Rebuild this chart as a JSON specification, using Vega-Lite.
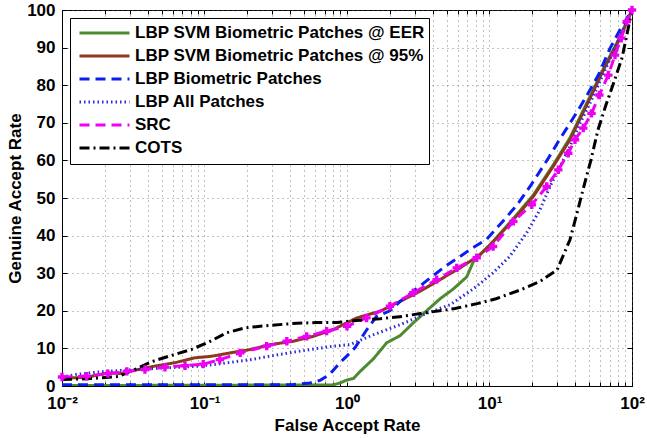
{
  "$schema": "https://vega.github.io/schema/vega-lite/v6.json",
  "autosize": "none",
  "width": 570,
  "height": 376,
  "padding": {"left": 62, "top": 10, "right": 15, "bottom": 52},
  "background": "white",
  "config": {
    "font": "Liberation Sans",
    "view": {"stroke": "black", "strokeWidth": 1},
    "axis": {
      "labelFont": "Liberation Sans",
      "labelFontSize": 17,
      "labelFontWeight": "bold",
      "labelColor": "black",
      "titleFont": "Liberation Sans",
      "titleFontSize": 17,
      "titleFontWeight": "bold",
      "titleColor": "black",
      "domainColor": "black",
      "tickColor": "black",
      "grid": true,
      "gridColor": "#666666",
      "gridDash": [1, 4],
      "gridWidth": 1,
      "gridOpacity": 0.8
    }
  },
  "resolve": {"axis": {"x": "independent", "y": "independent"}},
  "data": {
    "values": [
      {"s": "LBP SVM Biometric Patches @ EER", "x": 0.01, "y": 0.1},
      {"s": "LBP SVM Biometric Patches @ EER", "x": 0.8, "y": 0.3},
      {"s": "LBP SVM Biometric Patches @ EER", "x": 0.893, "y": 0.8},
      {"s": "LBP SVM Biometric Patches @ EER", "x": 1.0, "y": 1.6},
      {"s": "LBP SVM Biometric Patches @ EER", "x": 1.11, "y": 2.0},
      {"s": "LBP SVM Biometric Patches @ EER", "x": 1.23, "y": 3.8},
      {"s": "LBP SVM Biometric Patches @ EER", "x": 1.53, "y": 7.2},
      {"s": "LBP SVM Biometric Patches @ EER", "x": 1.9, "y": 11.5},
      {"s": "LBP SVM Biometric Patches @ EER", "x": 2.36, "y": 13.4},
      {"s": "LBP SVM Biometric Patches @ EER", "x": 2.92, "y": 16.8},
      {"s": "LBP SVM Biometric Patches @ EER", "x": 3.62, "y": 20.0},
      {"s": "LBP SVM Biometric Patches @ EER", "x": 4.5, "y": 23.2},
      {"s": "LBP SVM Biometric Patches @ EER", "x": 5.57, "y": 25.8},
      {"s": "LBP SVM Biometric Patches @ EER", "x": 6.92, "y": 29.0},
      {"s": "LBP SVM Biometric Patches @ EER", "x": 7.69, "y": 33.0},
      {"s": "LBP SVM Biometric Patches @ EER", "x": 8.58, "y": 35.0},
      {"s": "LBP SVM Biometric Patches @ EER", "x": 10.1, "y": 37.6},
      {"s": "LBP SVM Biometric Patches @ EER", "x": 14.7, "y": 44.5},
      {"s": "LBP SVM Biometric Patches @ EER", "x": 20.3, "y": 50.8},
      {"s": "LBP SVM Biometric Patches @ EER", "x": 28.0, "y": 58.8},
      {"s": "LBP SVM Biometric Patches @ EER", "x": 36.7, "y": 66.0},
      {"s": "LBP SVM Biometric Patches @ EER", "x": 50.7, "y": 77.0},
      {"s": "LBP SVM Biometric Patches @ EER", "x": 64.7, "y": 85.3},
      {"s": "LBP SVM Biometric Patches @ EER", "x": 82.4, "y": 92.8},
      {"s": "LBP SVM Biometric Patches @ EER", "x": 100, "y": 100},

      {"s": "LBP SVM Biometric Patches @ 95%", "x": 0.01, "y": 2.0},
      {"s": "LBP SVM Biometric Patches @ 95%", "x": 0.0153, "y": 2.4},
      {"s": "LBP SVM Biometric Patches @ 95%", "x": 0.0211, "y": 3.5},
      {"s": "LBP SVM Biometric Patches @ 95%", "x": 0.0262, "y": 3.3},
      {"s": "LBP SVM Biometric Patches @ 95%", "x": 0.0325, "y": 4.2},
      {"s": "LBP SVM Biometric Patches @ 95%", "x": 0.045, "y": 5.3},
      {"s": "LBP SVM Biometric Patches @ 95%", "x": 0.0621, "y": 6.2},
      {"s": "LBP SVM Biometric Patches @ 95%", "x": 0.0857, "y": 7.5},
      {"s": "LBP SVM Biometric Patches @ 95%", "x": 0.112, "y": 7.9},
      {"s": "LBP SVM Biometric Patches @ 95%", "x": 0.151, "y": 8.8},
      {"s": "LBP SVM Biometric Patches @ 95%", "x": 0.209, "y": 9.7},
      {"s": "LBP SVM Biometric Patches @ 95%", "x": 0.288, "y": 11.0},
      {"s": "LBP SVM Biometric Patches @ 95%", "x": 0.42, "y": 11.9},
      {"s": "LBP SVM Biometric Patches @ 95%", "x": 0.58, "y": 13.2},
      {"s": "LBP SVM Biometric Patches @ 95%", "x": 0.8, "y": 15.0},
      {"s": "LBP SVM Biometric Patches @ 95%", "x": 1.17, "y": 18.1},
      {"s": "LBP SVM Biometric Patches @ 95%", "x": 1.71, "y": 19.9},
      {"s": "LBP SVM Biometric Patches @ 95%", "x": 2.36, "y": 22.5},
      {"s": "LBP SVM Biometric Patches @ 95%", "x": 3.25, "y": 25.2},
      {"s": "LBP SVM Biometric Patches @ 95%", "x": 4.5, "y": 28.3},
      {"s": "LBP SVM Biometric Patches @ 95%", "x": 6.21, "y": 31.4},
      {"s": "LBP SVM Biometric Patches @ 95%", "x": 8.58, "y": 34.9},
      {"s": "LBP SVM Biometric Patches @ 95%", "x": 10.1, "y": 37.5},
      {"s": "LBP SVM Biometric Patches @ 95%", "x": 14.7, "y": 44.2},
      {"s": "LBP SVM Biometric Patches @ 95%", "x": 20.3, "y": 50.4},
      {"s": "LBP SVM Biometric Patches @ 95%", "x": 28.0, "y": 58.4},
      {"s": "LBP SVM Biometric Patches @ 95%", "x": 36.7, "y": 65.5},
      {"s": "LBP SVM Biometric Patches @ 95%", "x": 50.7, "y": 76.5},
      {"s": "LBP SVM Biometric Patches @ 95%", "x": 64.7, "y": 84.9},
      {"s": "LBP SVM Biometric Patches @ 95%", "x": 82.4, "y": 92.5},
      {"s": "LBP SVM Biometric Patches @ 95%", "x": 100, "y": 100},

      {"s": "LBP Biometric Patches", "x": 0.01, "y": 0.3},
      {"s": "LBP Biometric Patches", "x": 0.4, "y": 0.3},
      {"s": "LBP Biometric Patches", "x": 0.55, "y": 0.8},
      {"s": "LBP Biometric Patches", "x": 0.647, "y": 1.5},
      {"s": "LBP Biometric Patches", "x": 0.75, "y": 3.0},
      {"s": "LBP Biometric Patches", "x": 0.893, "y": 6.2},
      {"s": "LBP Biometric Patches", "x": 1.0, "y": 8.0},
      {"s": "LBP Biometric Patches", "x": 1.14, "y": 10.2},
      {"s": "LBP Biometric Patches", "x": 1.35, "y": 14.5},
      {"s": "LBP Biometric Patches", "x": 1.61, "y": 18.5},
      {"s": "LBP Biometric Patches", "x": 2.0, "y": 20.0},
      {"s": "LBP Biometric Patches", "x": 2.36, "y": 22.5},
      {"s": "LBP Biometric Patches", "x": 3.15, "y": 26.2},
      {"s": "LBP Biometric Patches", "x": 4.88, "y": 31.8},
      {"s": "LBP Biometric Patches", "x": 7.9, "y": 37.1},
      {"s": "LBP Biometric Patches", "x": 9.55, "y": 39.0},
      {"s": "LBP Biometric Patches", "x": 12.2, "y": 43.5},
      {"s": "LBP Biometric Patches", "x": 15.5, "y": 48.0},
      {"s": "LBP Biometric Patches", "x": 19.2, "y": 53.0},
      {"s": "LBP Biometric Patches", "x": 25.9, "y": 60.6},
      {"s": "LBP Biometric Patches", "x": 30.4, "y": 65.0},
      {"s": "LBP Biometric Patches", "x": 42.0, "y": 73.4},
      {"s": "LBP Biometric Patches", "x": 49.3, "y": 77.9},
      {"s": "LBP Biometric Patches", "x": 58.1, "y": 82.7},
      {"s": "LBP Biometric Patches", "x": 70.1, "y": 89.8},
      {"s": "LBP Biometric Patches", "x": 84.7, "y": 95.6},
      {"s": "LBP Biometric Patches", "x": 100, "y": 100},

      {"s": "LBP All Patches", "x": 0.01, "y": 2.4},
      {"s": "LBP All Patches", "x": 0.0127, "y": 3.1},
      {"s": "LBP All Patches", "x": 0.02, "y": 3.9},
      {"s": "LBP All Patches", "x": 0.0415, "y": 4.6},
      {"s": "LBP All Patches", "x": 0.093, "y": 5.3},
      {"s": "LBP All Patches", "x": 0.128, "y": 5.9},
      {"s": "LBP All Patches", "x": 0.209, "y": 7.0},
      {"s": "LBP All Patches", "x": 0.339, "y": 8.4},
      {"s": "LBP All Patches", "x": 0.55, "y": 9.7},
      {"s": "LBP All Patches", "x": 0.8, "y": 10.6},
      {"s": "LBP All Patches", "x": 1.05, "y": 11.0},
      {"s": "LBP All Patches", "x": 1.5, "y": 13.5},
      {"s": "LBP All Patches", "x": 2.36, "y": 16.3},
      {"s": "LBP All Patches", "x": 3.62, "y": 19.3},
      {"s": "LBP All Patches", "x": 5.28, "y": 21.6},
      {"s": "LBP All Patches", "x": 7.69, "y": 25.8},
      {"s": "LBP All Patches", "x": 10.6, "y": 30.1},
      {"s": "LBP All Patches", "x": 13.9, "y": 34.5},
      {"s": "LBP All Patches", "x": 18.2, "y": 40.7},
      {"s": "LBP All Patches", "x": 22.6, "y": 46.9},
      {"s": "LBP All Patches", "x": 26.6, "y": 53.1},
      {"s": "LBP All Patches", "x": 31.3, "y": 58.4},
      {"s": "LBP All Patches", "x": 36.7, "y": 63.7},
      {"s": "LBP All Patches", "x": 43.2, "y": 69.9},
      {"s": "LBP All Patches", "x": 50.7, "y": 75.2},
      {"s": "LBP All Patches", "x": 64.7, "y": 84.0},
      {"s": "LBP All Patches", "x": 82.4, "y": 93.0},
      {"s": "LBP All Patches", "x": 100, "y": 100},

      {"s": "SRC", "x": 0.01, "y": 2.4},
      {"s": "SRC", "x": 0.0149, "y": 2.6},
      {"s": "SRC", "x": 0.021, "y": 3.3},
      {"s": "SRC", "x": 0.0285, "y": 3.9},
      {"s": "SRC", "x": 0.0382, "y": 4.4},
      {"s": "SRC", "x": 0.0528, "y": 5.0},
      {"s": "SRC", "x": 0.073, "y": 5.4},
      {"s": "SRC", "x": 0.098, "y": 5.8},
      {"s": "SRC", "x": 0.128, "y": 7.0},
      {"s": "SRC", "x": 0.178, "y": 8.8},
      {"s": "SRC", "x": 0.273, "y": 10.6},
      {"s": "SRC", "x": 0.378, "y": 11.9},
      {"s": "SRC", "x": 0.521, "y": 13.2},
      {"s": "SRC", "x": 0.72, "y": 14.6},
      {"s": "SRC", "x": 1.0, "y": 15.9},
      {"s": "SRC", "x": 1.37, "y": 18.1},
      {"s": "SRC", "x": 2.0, "y": 21.2},
      {"s": "SRC", "x": 2.92, "y": 24.8},
      {"s": "SRC", "x": 4.26, "y": 28.3},
      {"s": "SRC", "x": 5.89, "y": 31.4},
      {"s": "SRC", "x": 8.13, "y": 34.1},
      {"s": "SRC", "x": 10.6, "y": 37.1},
      {"s": "SRC", "x": 14.7, "y": 43.8},
      {"s": "SRC", "x": 19.8, "y": 48.2},
      {"s": "SRC", "x": 25.2, "y": 53.1},
      {"s": "SRC", "x": 30.4, "y": 57.5},
      {"s": "SRC", "x": 35.7, "y": 61.9},
      {"s": "SRC", "x": 39.8, "y": 65.5},
      {"s": "SRC", "x": 45.5, "y": 68.6},
      {"s": "SRC", "x": 52.0, "y": 72.5},
      {"s": "SRC", "x": 59.0, "y": 77.4},
      {"s": "SRC", "x": 68.2, "y": 82.7},
      {"s": "SRC", "x": 76.0, "y": 88.0},
      {"s": "SRC", "x": 84.0, "y": 92.5},
      {"s": "SRC", "x": 91.9, "y": 96.9},
      {"s": "SRC", "x": 100, "y": 100},

      {"s": "COTS", "x": 0.01, "y": 1.7},
      {"s": "COTS", "x": 0.0165, "y": 2.0},
      {"s": "COTS", "x": 0.0247, "y": 2.5},
      {"s": "COTS", "x": 0.0325, "y": 4.4},
      {"s": "COTS", "x": 0.0428, "y": 6.5},
      {"s": "COTS", "x": 0.0582, "y": 8.1},
      {"s": "COTS", "x": 0.0804, "y": 9.7},
      {"s": "COTS", "x": 0.106, "y": 11.6},
      {"s": "COTS", "x": 0.144, "y": 14.2},
      {"s": "COTS", "x": 0.195, "y": 15.5},
      {"s": "COTS", "x": 0.284, "y": 16.1},
      {"s": "COTS", "x": 0.411, "y": 16.6},
      {"s": "COTS", "x": 0.606, "y": 16.9},
      {"s": "COTS", "x": 0.851, "y": 16.9},
      {"s": "COTS", "x": 1.16, "y": 17.4},
      {"s": "COTS", "x": 1.71, "y": 17.9},
      {"s": "COTS", "x": 2.43, "y": 18.5},
      {"s": "COTS", "x": 3.58, "y": 19.5},
      {"s": "COTS", "x": 5.73, "y": 20.6},
      {"s": "COTS", "x": 8.17, "y": 21.9},
      {"s": "COTS", "x": 11.1, "y": 23.2},
      {"s": "COTS", "x": 16.6, "y": 25.6},
      {"s": "COTS", "x": 22.6, "y": 27.8},
      {"s": "COTS", "x": 29.8, "y": 30.9},
      {"s": "COTS", "x": 36.7, "y": 38.9},
      {"s": "COTS", "x": 40.5, "y": 45.0},
      {"s": "COTS", "x": 45.3, "y": 52.2},
      {"s": "COTS", "x": 51.5, "y": 60.1},
      {"s": "COTS", "x": 57.7, "y": 68.1},
      {"s": "COTS", "x": 65.7, "y": 74.8},
      {"s": "COTS", "x": 74.8, "y": 80.9},
      {"s": "COTS", "x": 85.2, "y": 87.3},
      {"s": "COTS", "x": 100, "y": 100}
    ]
  },
  "layer": [
    {
      "mark": {"type": "line", "clip": true},
      "encoding": {
        "x": {
          "field": "x",
          "type": "quantitative",
          "scale": {"type": "log", "domain": [0.01, 100], "nice": false},
          "axis": {
            "title": "False Accept Rate",
            "values": [0.01,0.02,0.03,0.04,0.05,0.06,0.07,0.08,0.09,0.1,0.2,0.3,0.4,0.5,0.6,0.7,0.8,0.9,1,2,3,4,5,6,7,8,9,10,20,30,40,50,60,70,80,90,100],
            "labelExpr": "datum.value == 0.01 ? '10⁻²' : datum.value == 0.1 ? '10⁻¹' : datum.value == 1 ? '10⁰' : datum.value == 10 ? '10¹' : datum.value == 100 ? '10²' : ''",
            "tickSize": -4,
            "labelPadding": 13,
            "labelFlush": false,
            "labelOverlap": false,
            "titlePadding": 6
          }
        },
        "y": {
          "field": "y",
          "type": "quantitative",
          "scale": {"domain": [0, 100], "nice": false},
          "axis": {
            "title": "Genuine Accept Rate",
            "values": [0,10,20,30,40,50,60,70,80,90,100],
            "tickSize": -5,
            "labelPadding": 12,
            "labelFlush": false,
            "titlePadding": 2
          }
        },
        "color": {
          "field": "s",
          "type": "nominal",
          "scale": {
            "domain": ["LBP SVM Biometric Patches @ EER", "LBP SVM Biometric Patches @ 95%", "LBP Biometric Patches", "LBP All Patches", "SRC", "COTS"],
            "range": ["#4e8a30", "#8b3a1c", "#0a1ef0", "#2a2ad8", "#f000f0", "#000000"]
          },
          "legend": {
            "title": null,
            "orient": "none",
            "legendX": 8,
            "legendY": 8,
            "symbolType": "stroke",
            "symbolSize": 2500,
            "symbolOffset": 4,
            "clipHeight": 22.2,
            "labelOffset": 4,
            "labelFont": "Liberation Sans",
            "labelFontSize": 17,
            "labelFontWeight": "bold",
            "labelColor": "black",
            "labelLimit": 400,
            "rowPadding": 0,
            "padding": 4,
            "strokeColor": "black",
            "fillColor": "white"
          }
        },
        "strokeDash": {
          "field": "s",
          "type": "nominal",
          "scale": {
            "domain": ["LBP SVM Biometric Patches @ EER", "LBP SVM Biometric Patches @ 95%", "LBP Biometric Patches", "LBP All Patches", "SRC", "COTS"],
            "range": [[1, 0], [1, 0], [10, 6], [1.5, 3], [10, 6], [10, 4, 2, 4]]
          },
          "legend": null
        },
        "strokeWidth": {
          "field": "s",
          "type": "ordinal",
          "scale": {
            "domain": ["LBP SVM Biometric Patches @ EER", "LBP SVM Biometric Patches @ 95%", "LBP Biometric Patches", "LBP All Patches", "SRC", "COTS"],
            "range": [3, 3, 3, 1.2, 3, 3]
          },
          "legend": null
        }
      }
    },
    {
      "transform": [{"filter": "datum.s == 'SRC'"}],
      "mark": {"type": "point", "shape": "cross", "filled": true, "color": "#f000f0", "size": 70, "opacity": 1, "clip": false},
      "encoding": {
        "x": {
          "field": "x",
          "type": "quantitative",
          "axis": {
            "orient": "top",
            "title": null,
            "labels": false,
            "grid": false,
            "domain": false,
            "values": [0.01,0.02,0.03,0.04,0.05,0.06,0.07,0.08,0.09,0.1,0.2,0.3,0.4,0.5,0.6,0.7,0.8,0.9,1,2,3,4,5,6,7,8,9,10,20,30,40,50,60,70,80,90,100],
            "tickSize": -4
          }
        },
        "y": {
          "field": "y",
          "type": "quantitative",
          "axis": {
            "orient": "right",
            "title": null,
            "labels": false,
            "grid": false,
            "domain": false,
            "values": [0,10,20,30,40,50,60,70,80,90,100],
            "tickSize": -5
          }
        }
      }
    }
  ]
}
